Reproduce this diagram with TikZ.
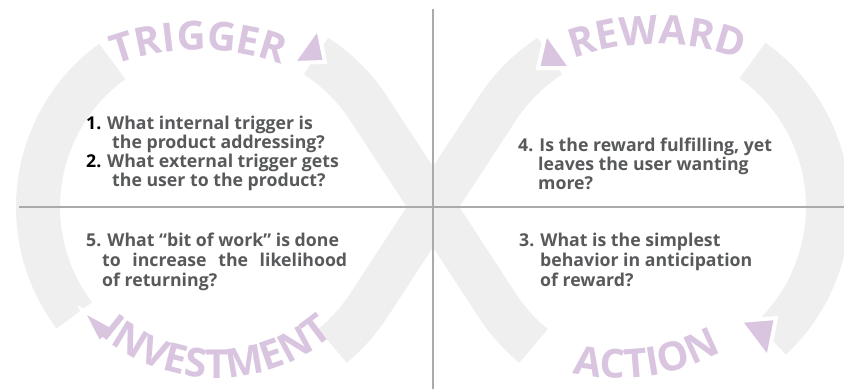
\documentclass[tikz,border=0pt]{standalone}
\usepackage{fontspec}
\setmainfont{Open Sans}
\usetikzlibrary{calc,decorations.text}
\definecolor{bandgray}{HTML}{EFEFEF}
\definecolor{purp}{HTML}{D9C5DF}
\definecolor{txtgray}{HTML}{58595B}
\definecolor{rulegray}{HTML}{AAAAAA}
\begin{document}
\begin{tikzpicture}[x=1pt,y=-1pt,
  bandseg/.style={draw=bandgray, line width=44pt, line cap=butt, line join=round},
  arrowhd/.style={fill=purp, draw=white, line width=4pt, line join=miter},
  ruleline/.style={draw=rulegray, line width=1.5pt},
  qtext/.style={font=\fontsize{17.7}{20}\selectfont\bfseries, text=txtgray, inner sep=0pt, anchor=base west},
  qnum/.style={qtext, text=black},
  titletext/.style={decorate, decoration={text along path, text align=center, text color=purp, text={#1}}}
]
\useasboundingbox (0,0) rectangle (844,389);
\fill[white] (0,0) rectangle (844,389);
\coordinate (Lc) at (218,207);
\coordinate (Rc) at (648,207);
\coordinate (C) at (433,207);
\coordinate (LR) at ($(Rc)+(-213.16:180)$);
\coordinate (LL) at ($(Lc)+(33.16:180)$);
\begin{scope}
\clip (0,0) rectangle (844,389);
% band segments
\path[bandseg] (Lc) ++(-126:180) arc[start angle=-126, end angle=-217, radius=180];
\path[bandseg] (Lc) ++(-57:180) arc[start angle=-57, end angle=-33.16, radius=180] -- (C) -- (LR) arc[start angle=-213.16, end angle=-230.5, radius=180];
\path[bandseg] (Rc) ++(47:180) arc[start angle=47, end angle=-54.5, radius=180];
\path[bandseg] (Rc) ++(-123:180) arc[start angle=-123, end angle=-146.84, radius=180] -- (C) -- (LL) arc[start angle=33.16, end angle=50.5, radius=180];
% arrowheads
\path[arrowhd] (293,63) coordinate (ta1) -- (325,62) -- (318,28) -- cycle;
\path[arrowhd] (571,68) coordinate (ra1) -- (538,68) -- (546,33) -- cycle;
\path[arrowhd] (82,310) coordinate (ia1) -- (115,328) -- (99,343) -- cycle;
\path[arrowhd] (740,321) coordinate (aa1) -- (776,318) -- (768,358) -- cycle;
\end{scope}
% dividers
\coordinate (vtop) at (433,9);
\coordinate (vbot) at (433,389);
\coordinate (hl) at (19,207);
\coordinate (hr) at (844,207);
\path[ruleline] (vtop) -- (vbot);
\path[ruleline] (hl) -- (hr);
% titles
\coordinate (tc) at (199,290);
\coordinate (rc) at (657,284);
\coordinate (ic) at (217,198);
\coordinate (ac) at (620,168);
\path[titletext={|\fontsize{40}{40}\selectfont\bfseries|TRIGGER}] (tc) ++(-125:240) arc[start angle=-125, end angle=-55, radius=240];
\path[titletext={|\fontsize{40}{40}\selectfont\bfseries|REWARD}] (rc) ++(-125:240) arc[start angle=-125, end angle=-55, radius=240];
\path[titletext={|\fontsize{40}{40}\selectfont\bfseries|INVESTMENT}] (ic) ++(-215:180) arc[start angle=-215, end angle=-325, radius=180];
\path[titletext={|\fontsize{40}{40}\selectfont\bfseries|ACTION}] (ac) ++(-232.9:210) arc[start angle=-232.9, end angle=-322.9, radius=210];
% questions
\node[qnum] (n1) at (86,129) {1.};
\node[qtext] (q1a) at (107,129) {What internal trigger is};
\node[qtext] (q1b) at (112,148) {the product addressing?};
\node[qnum] (n2) at (86,167) {2.};
\node[qtext] (q1c) at (107,167) {What external trigger gets};
\node[qtext] (q1d) at (112,186) {the user to the product?};
\node[qtext] (q4a) at (518,151) {4. Is the reward fulfilling, yet};
\node[qtext] (q4b) at (538,170) {leaves the user wanting};
\node[qtext] (q4c) at (538,189) {more?};
\node[qtext] (q5a) at (86,246) {5. What “bit of work” is done};
\node[qtext] (q5b) at (102,266) {\hbox to 245pt{to\hfill increase\hfill the\hfill likelihood}};
\node[qtext] (q5c) at (102,286) {of returning?};
\node[qtext] (q3a) at (519,246) {3. What is the simplest};
\node[qtext] (q3b) at (540,266) {behavior in anticipation};
\node[qtext] (q3c) at (540,286) {of reward?};
\end{tikzpicture}
\end{document}
